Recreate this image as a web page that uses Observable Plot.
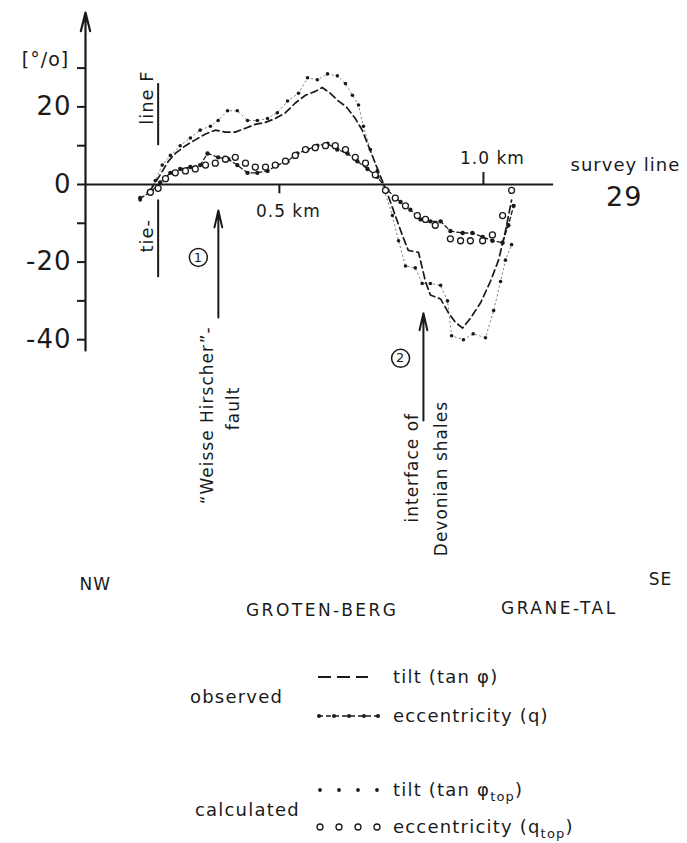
<!DOCTYPE html>
<html><head><meta charset="utf-8">
<script src="https://cdn.jsdelivr.net/npm/d3@7"></script>
<script src="https://cdn.jsdelivr.net/npm/@observablehq/plot@0.6"></script>
<style>
body{margin:0;background:#fff;}
#chart svg text{letter-spacing:1px}
#legend text{font-family:"DejaVu Sans";font-size:18px;letter-spacing:1.2px;fill:#1a1a1a}
</style></head><body><div id="chart"></div><div id="legend"></div>
<script>
// distance along survey line 29 (km) and values (%)
const obsTiltKm = [0.184,0.208,0.228,0.245,0.270,0.294,0.319,0.343,0.368,0.392,0.417,0.441,0.466,0.490,0.515,0.539,0.564,0.588,0.605,0.625,0.645,0.664,0.686,0.703,0.718,0.735,0.752,0.767,0.784,0.801,0.816,0.841,0.858,0.870,0.895,0.914,0.931,0.949,0.968,0.993,1.017,1.037,1.054,1.069];
const obsTiltVal = [-1.5,2.5,6,8,10,11.5,13,14,13.5,13.5,14.5,15.5,16,17,18.5,21,23,24,25,23.5,21.5,20,17,14,10,5.5,1,-3,-8,-13,-17,-17.5,-25,-28.5,-29.5,-33,-35.5,-37,-34.5,-30.5,-25,-19.5,-12,-4];

const obsEccKm = [0.159,0.184,0.208,0.233,0.257,0.282,0.306,0.324,0.350,0.375,0.397,0.422,0.446,0.471,0.495,0.520,0.544,0.569,0.593,0.618,0.642,0.667,0.691,0.716,0.740,0.765,0.797,0.821,0.846,0.870,0.895,0.919,0.949,0.973,0.998,1.022,1.047,1.061,1.074];
const obsEccVal = [-3.5,-2,0.5,3,4,4.5,5,8,7,6.5,5,3,3,3.5,5,6,8,9,10,10.5,9,8,6,4,2,-1.5,-4.5,-6.5,-9,-9.5,-9.5,-12,-12.5,-12.5,-13.5,-14.5,-15,-10.5,-5.5];

const calcTiltKm = [0.159,0.179,0.196,0.213,0.233,0.257,0.282,0.306,0.331,0.350,0.373,0.397,0.422,0.446,0.471,0.495,0.520,0.547,0.569,0.593,0.618,0.642,0.662,0.679,0.694,0.706,0.723,0.740,0.757,0.777,0.792,0.809,0.833,0.850,0.870,0.895,0.912,0.922,0.951,0.975,1.005,1.025,1.042,1.054,1.069];
const calcTiltVal = [-4,-2,1,5,7.5,10,12,14,15,16.5,19,19,16.5,16.5,17,18.5,21.5,23.5,27.5,27,28.5,28,26,23,20.5,15,9,3.5,-1.5,-8,-14.5,-21,-21.5,-25.5,-25.5,-26,-30,-39,-40,-38.5,-39.5,-32.5,-25,-19.5,-15.5];

const calcEccKm = [0.184,0.203,0.221,0.245,0.270,0.294,0.319,0.343,0.368,0.392,0.417,0.441,0.466,0.490,0.515,0.539,0.564,0.588,0.613,0.637,0.662,0.686,0.711,0.735,0.760,0.784,0.809,0.838,0.858,0.882,0.919,0.944,0.968,0.998,1.022,1.047,1.069];
const calcEccVal = [-2,-1,1.5,3,3.5,4,5,5.5,6.5,7,5.5,4.5,4.5,5,6,7.5,9,9.5,10,10,9,7,5.5,2.5,-1.5,-3.5,-5.5,-8,-9,-10.5,-14,-14.5,-14.5,-14.5,-13,-8,-1.5];

const yTicks = [-40,-30,-20,-10,0,10,20,30];
const yTickLabels = [-40,-20,0,20];
const xTickKm = [0.5, 1.0];
const xTickLabels = ["0.5 km", "1.0 km"];

const rows = (k, v) => k.map((x, i) => ({km: x, v: v[i]}));
const obsTilt = rows(obsTiltKm, obsTiltVal);
const obsEcc = rows(obsEccKm, obsEccVal);
const calcTilt = rows(calcTiltKm, calcTiltVal);
const calcEcc = rows(calcEccKm, calcEccVal);

const ink = "#1a1a1a";
const F = "DejaVu Sans";

const chart = Plot.plot({
  width: 687, height: 640,
  marginLeft: 85, marginRight: 0, marginTop: 0, marginBottom: 0,
  style: {fontFamily: F, color: ink, background: "#fff"},
  x: {domain: [0.025, 1.5], axis: null},
  y: {domain: [-117.53, 47.42]},
  marks: [
    Plot.axisY(yTicks, {tickSize: 8, tickPadding: 6, fontSize: 26, strokeWidth: 2, label: null,
      tickFormat: d => yTickLabels.includes(d) ? (d < 0 ? "-" + (-d) : String(d)) : ""}),
    // y axis with arrow
    Plot.arrow([{x1: 0.025, x2: 0.025, y1: -42.8, y2: 44.3}], {x1: "x1", x2: "x2", y1: "y1", y2: "y2", stroke: ink, strokeWidth: 2.2, headLength: 13, headAngle: 28}),
    // x axis (survey line)
    Plot.ruleY([0], {x1: 0.025, x2: 1.172, stroke: ink, strokeWidth: 2.2}),
    Plot.ruleX([{x: xTickKm[0], y1: 0, y2: -2.4}], {x: "x", y1: "y1", y2: "y2", stroke: ink, strokeWidth: 2}),
    Plot.ruleX([{x: xTickKm[1], y1: 0, y2: 3.1}], {x: "x", y1: "y1", y2: "y2", stroke: ink, strokeWidth: 2}),
    Plot.text([{x: 0.522, y: -6.9, t: xTickLabels[0]}], {x: "x", y: "y", text: "t", fontSize: 17}),
    Plot.text([{x: 1.022, y: 6.7, t: xTickLabels[1]}], {x: "x", y: "y", text: "t", fontSize: 17}),
    Plot.text([{x: -0.073, y: 32, t: "[°/o]"}], {x: "x", y: "y", text: "t", fontSize: 19}),
    Plot.text([{x: 1.348, y: 4.9, t: "survey line"}], {x: "x", y: "y", text: "t", fontSize: 18}),
    Plot.text([{x: 1.345, y: -3.2, t: "29"}], {x: "x", y: "y", text: "t", fontSize: 27}),
    // tie-line F
    Plot.ruleX([{x: 0.203, y1: 10, y2: 26}, {x: 0.203, y1: -4, y2: -24}], {x: "x", y1: "y1", y2: "y2", stroke: ink, strokeWidth: 2}),
    Plot.text([{x: 0.1765, y: 22.4, t: "line F"}, {x: 0.1765, y: -13.2, t: "tie-"}], {x: "x", y: "y", text: "t", rotate: -90, fontSize: 18}),
    // data series
    Plot.line(calcTilt, {x: "km", y: "v", stroke: "#666", strokeWidth: 0.8, strokeDasharray: "1.5,3"}),
    Plot.dot(calcTilt, {x: "km", y: "v", r: 1.8, fill: ink}),
    Plot.line(obsTilt, {x: "km", y: "v", stroke: ink, strokeWidth: 1.7, strokeDasharray: "7,4"}),
    Plot.line(obsEcc, {x: "km", y: "v", stroke: ink, strokeWidth: 1.3, strokeDasharray: "4,3"}),
    Plot.dot(obsEcc, {x: "km", y: "v", r: 2.2, fill: ink}),
    Plot.dot(calcEcc, {x: "km", y: "v", r: 3, stroke: ink, strokeWidth: 1.3, fill: "#fff"}),
    // fault 1
    Plot.arrow([{x: 0.3505, y1: -34.3, y2: -6.7}], {x1: "x", x2: "x", y1: "y1", y2: "y2", stroke: ink, strokeWidth: 2, headLength: 13, headAngle: 26}),
    Plot.dot([{x: 0.3015, y: -18.8}, {x: 0.797, y: -44.8}], {x: "x", y: "y", r: 9, stroke: ink, strokeWidth: 1.5, fill: "none"}),
    Plot.text([{x: 0.3015, y: -18.8, t: "1"}, {x: 0.797, y: -44.8, t: "2"}], {x: "x", y: "y", text: "t", fontSize: 13}),
    Plot.text([{x: 0.3235, y: -59.5, t: "\u201CWeisse Hirscher\u201D-"}, {x: 0.387, y: -57.7, t: "fault"}], {x: "x", y: "y", text: "t", rotate: -90, fontSize: 17}),
    // interface 2
    Plot.arrow([{x: 0.853, y1: -60.8, y2: -33.2}], {x1: "x", x2: "x", y1: "y1", y2: "y2", stroke: ink, strokeWidth: 2, headLength: 13, headAngle: 26}),
    Plot.text([{x: 0.826, y: -73, t: "interface of"}, {x: 0.897, y: -75.8, t: "Devonian shales"}], {x: "x", y: "y", text: "t", rotate: -90, fontSize: 17}),
    // place names
    Plot.text([
      {x: 0.049, y: -103.1, t: "NW"},
      {x: 0.605, y: -109.8, t: "GROTEN-BERG"},
      {x: 1.186, y: -109.3, t: "GRANE-TAL"},
      {x: 1.434, y: -101.8, t: "SE"}
    ], {x: "x", y: "y", text: "t", fontSize: 17})
  ]
});
document.getElementById("chart").appendChild(chart);
d3.select(chart).selectAll("text").filter(function(){return /GROTEN|GRANE/.test(this.textContent);}).style("letter-spacing", "2.5px");

// legend (below the chart)
const L = d3.select("#legend").append("svg").attr("width", 687).attr("height", 203);
const g = L.append("g").attr("stroke", ink).attr("fill", "none");
g.append("line").attr("x1", 318).attr("x2", 368).attr("y1", 37).attr("y2", 37).attr("stroke-width", 2).attr("stroke-dasharray", "13,6");
g.append("line").attr("x1", 318).attr("x2", 378).attr("y1", 76).attr("y2", 76).attr("stroke-width", 1.5).attr("stroke-dasharray", "5,3");
[319, 334, 349, 364, 378].forEach(x => L.append("circle").attr("cx", x).attr("cy", 76).attr("r", 2).attr("fill", ink));
[320, 339, 358, 377].forEach(x => L.append("circle").attr("cx", x).attr("cy", 150).attr("r", 1.9).attr("fill", ink));
[320, 339, 358, 377].forEach(x => L.append("circle").attr("cx", x).attr("cy", 187).attr("r", 3).attr("fill", "#fff").attr("stroke", ink).attr("stroke-width", 1.3));
const T = (x, y, s) => L.append("text").attr("x", x).attr("y", y).text(s);
T(190, 63, "observed");
T(195, 176, "calculated");
T(393, 43, "tilt (tan \u03C6)");
T(393, 82, "eccentricity (q)");
const t3 = T(393, 156, "tilt (tan \u03C6");
t3.append("tspan").attr("dy", 5).attr("font-size", 13).text("top");
t3.append("tspan").attr("dy", -5).text(")");
const t4 = T(393, 193, "eccentricity (q");
t4.append("tspan").attr("dy", 5).attr("font-size", 13).text("top");
t4.append("tspan").attr("dy", -5).text(")");
</script></body></html>
